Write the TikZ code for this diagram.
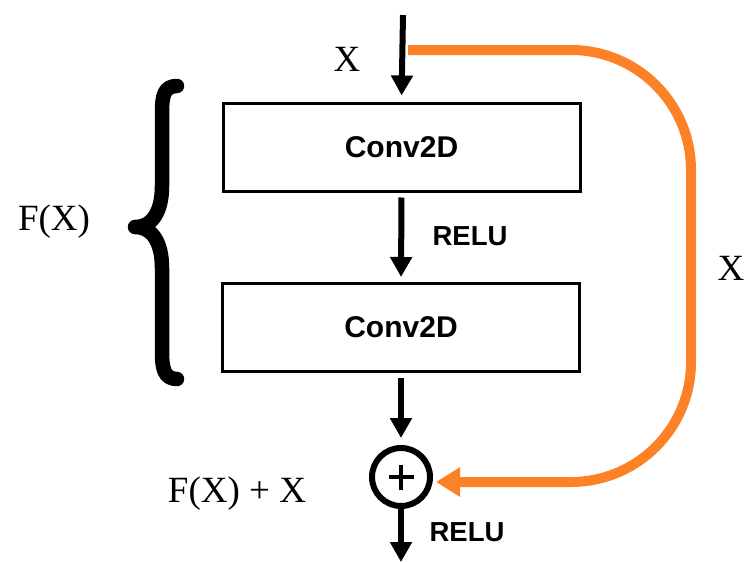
\documentclass[tikz,border=0pt]{standalone}
\usepackage{fontspec}
\setmainfont{Liberation Serif}
\newfontfamily\boxfont{Liberation Sans}
\usetikzlibrary{arrows.meta}
\definecolor{skiporange}{RGB}{253,129,38}
\tikzset{
  convbox/.style={draw=black, line width=3pt, minimum width=357pt, minimum height=88pt,
    font=\boxfont\bfseries\fontsize{30}{34}\selectfont, inner sep=0pt},
  flow/.style={line width=6pt, -{Triangle[length=20pt,width=21pt]}},
  skip/.style={draw=skiporange, line width=10pt, rounded corners=120pt,
    -{Triangle[length=24pt,width=28pt]}},
  sumnode/.style={circle, draw=black, line width=6pt, minimum size=58pt, inner sep=0pt},
  relulabel/.style={font=\boxfont\bfseries\fontsize{27.5}{30}\selectfont, inner sep=0pt},
  serlabel/.style={font=\fontsize{37}{40}\selectfont, inner sep=0pt},
  bracepath/.style={line width=14.5pt, line cap=round, line join=round}
}
\begin{document}
\begin{tikzpicture}[x=1pt,y=-1pt]
\useasboundingbox (0,0) rectangle (746,562);
% nodes
\node[convbox] (c1) at (401.5,147) {Conv2D};
\node[convbox] (c2) at (401,327.5) {Conv2D};
\node[sumnode] (sum) at (401,477) {};
\coordinate (in) at (403,15);
\coordinate (out) at (401,562);
\coordinate (xs) at (408,50);
\coordinate (k1) at (691,50);
\coordinate (k2) at (691,482);
% plus sign
\draw[line width=4.5pt] ([xshift=-12.5pt]sum.center) -- ([xshift=12.5pt]sum.center)
  ([yshift=-12.5pt]sum.center) -- ([yshift=12.5pt]sum.center);
% connectors
\draw[flow, shorten >=6pt] (in) -- (c1.north);
\draw[flow, shorten <=5pt, shorten >=5pt] (c1.south) -- (c2.south |- c2.north);
\draw[flow, shorten <=5pt, shorten >=7pt] (c2.south) -- (sum.north);
\draw[flow] (sum.south) -- (out);
\draw[skip] (xs) -- (k1) -- (k2) -- ([xshift=3pt]sum.east |- k2);
% labels
\node[serlabel] (lx) at (347,59) {X};
\node[serlabel] (rx) at (731,268) {X};
\node[serlabel] (fx) at (54,222) {F(X)};
\node[serlabel] (fxx) at (237,494) {F(X) + X};
\node[relulabel] (r1) at (470,236) {RELU};
\node[relulabel] (r2) at (467,532) {RELU};
% brace
\draw[bracepath] (177,86) .. controls (164,86) and (162,96) .. (162,112)
  -- (162,186) .. controls (162,212) and (152,227) .. (135,227)
  .. controls (152,227) and (162,242) .. (162,268)
  -- (162,352) .. controls (162,368) and (164,379) .. (177,379);
\end{tikzpicture}
\end{document}
